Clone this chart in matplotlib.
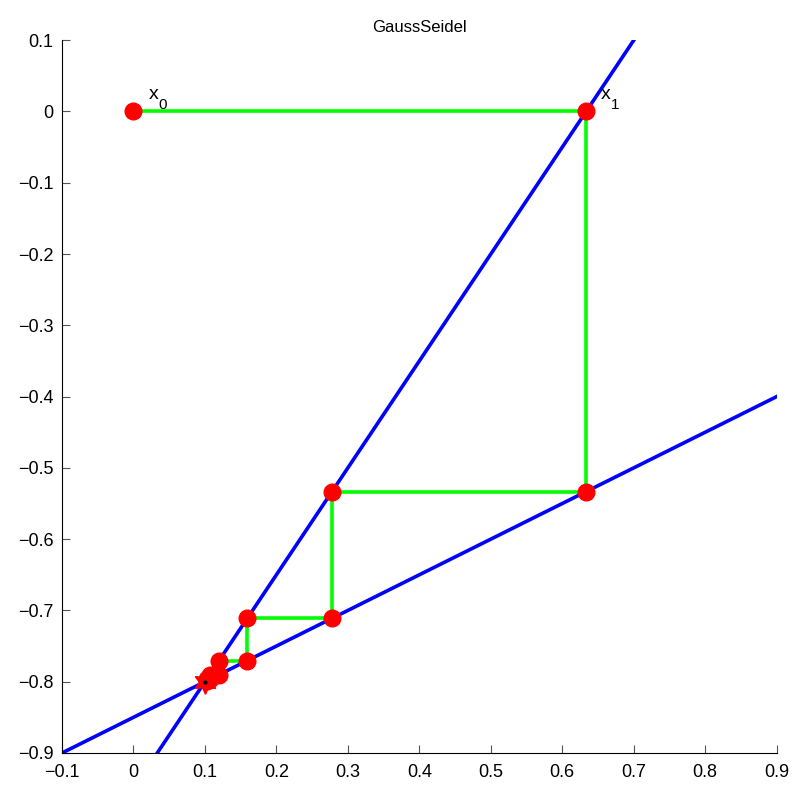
import matplotlib
matplotlib.use("Agg")
import matplotlib.pyplot as plt
import numpy as np

plt.rcParams['font.family'] = ['Liberation Sans', 'DejaVu Sans']

# Line endpoints
line1_x = [0.0333, 0.7]
line1_y = [-0.9, 0.1]
line2_x = [-0.1, 0.9]
line2_y = [-0.9, -0.4]

# Gauss-Seidel iterates
iter_x = [0.0, 0.6333, 0.6333, 0.2778, 0.2778, 0.1593, 0.1593, 0.1198, 0.1198, 0.1066, 0.1066, 0.1022, 0.1022]
iter_y = [0.0, 0.0, -0.5333, -0.5333, -0.7111, -0.7111, -0.7704, -0.7704, -0.7901, -0.7901, -0.7967, -0.7967, -0.7989]

sol_x = [0.1]
sol_y = [-0.8]

labels = ['0', '1']
label_x = [0.0, 0.6333]
label_y = [0.0, 0.0]

xticks = [-0.1, 0, 0.1, 0.2, 0.3, 0.4, 0.5, 0.6, 0.7, 0.8, 0.9]
yticks = [-0.9, -0.8, -0.7, -0.6, -0.5, -0.4, -0.3, -0.2, -0.1, 0, 0.1]

def fmt(v):
    if v == 0:
        return '0'
    if v < 0:
        return '\u2212' + f'{-v:g}'
    return f'{v:g}'

fig = plt.figure(figsize=(7.95, 7.85), dpi=100)
ax = fig.add_axes([0.078, 0.0408, 0.899, 0.908])

ax.plot(line1_x, line1_y, color='#0000ff', lw=2.6, zorder=2)
ax.plot(line2_x, line2_y, color='#0000ff', lw=2.6, zorder=2)
ax.plot(iter_x, iter_y, color='#00ff00', lw=2.6, zorder=3)
ax.plot(sol_x, sol_y, marker=(6, 1, 0), color='red', ms=17, ls='none', zorder=4)
ax.plot(iter_x, iter_y, 'o', color='red', ms=12, ls='none', zorder=5)
ax.plot(sol_x, sol_y, '.', color='black', ms=4, zorder=6)

for lx, ly, s in zip(label_x, label_y, labels):
    ax.annotate('x', (lx, ly), xytext=(15, 12), textcoords='offset pixels',
                fontsize=14, ha='left', va='baseline')
    ax.annotate(s, (lx, ly), xytext=(25, 2), textcoords='offset pixels',
                fontsize=11, ha='left', va='baseline')

ax.set_xlim(-0.1, 0.9)
ax.set_ylim(-0.9, 0.1)
ax.set_xticks(xticks)
ax.set_yticks(yticks)
ax.set_xticklabels([fmt(v) for v in xticks])
ax.set_yticklabels([fmt(v) for v in yticks])
ax.tick_params(direction='in', length=6, labelsize=13, width=0.8, color='#555555')
ax.tick_params(axis='x', pad=8)
ax.tick_params(axis='y', pad=6)
ax.spines['top'].set_visible(False)
ax.spines['right'].set_visible(False)
ax.set_title('GaussSeidel', fontsize=12)

fig.savefig('out.png', dpi=100)
